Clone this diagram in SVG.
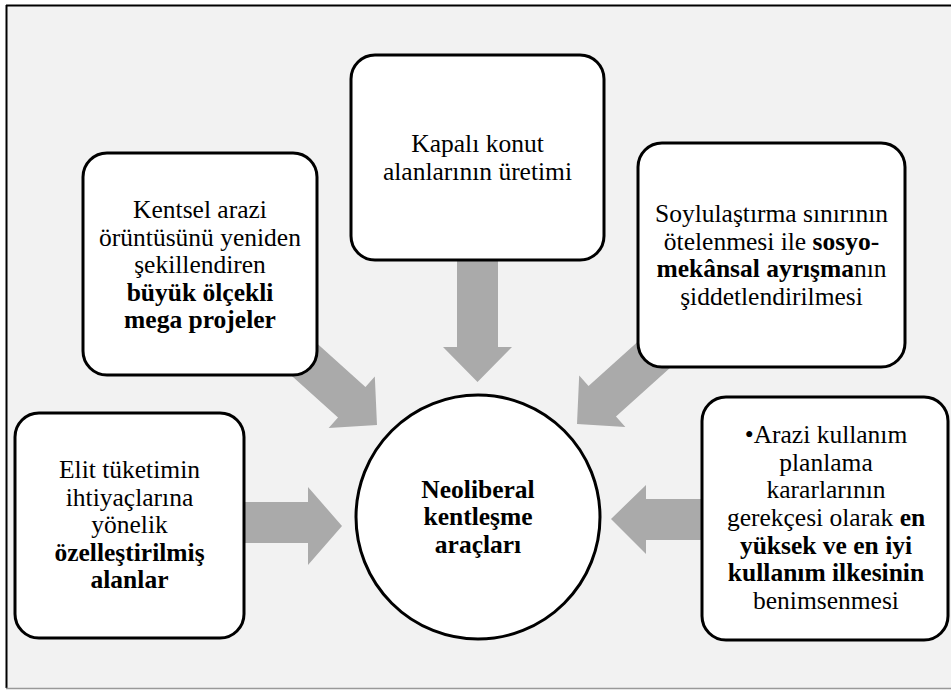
<svg xmlns="http://www.w3.org/2000/svg" width="951" height="690" viewBox="0 0 951 690">
<style>
.box{fill:#ffffff;stroke:#000000;stroke-width:3}
.arr{fill:#aaaaaa;stroke:none}
.t{font-family:'Liberation Serif','Times New Roman','DejaVu Serif',serif;font-size:25.5px;fill:#000000;text-anchor:middle}
.b{font-weight:bold}
</style>
<defs>
<path id="diag" d="M0,0 L-34,-34.5 L-34,-20.5 L-120,-20.5 L-120,20.5 L-34,20.5 L-34,34.5 Z"/>
</defs>
<rect x="0" y="0" width="951" height="690" fill="#ffffff"/>
<g id="frame">
<rect x="6" y="5" width="945" height="683" fill="#f2f2f2"/>
<line x1="6" y1="5.5" x2="951" y2="5.5" stroke="#000000" stroke-width="2"/>
<line x1="6.5" y1="5" x2="6.5" y2="688" stroke="#000000" stroke-width="2"/>
<line x1="6" y1="688.5" x2="951" y2="688.5" stroke="#999999" stroke-width="1.5"/>
</g>
<g id="connectors">
<polygon class="arr" points="245,502 308,502 308,487 342,526 308,565 308,543 245,543"/>
<polygon class="arr" points="710,499 646,499 646,485 611,519 646,554 646,540 710,540"/>
<polygon class="arr" points="457,255 498,255 498,347 512,347 477.5,382 443,347 457,347"/>
<use href="#diag" class="arr" transform="translate(377,425) rotate(42)"/>
<use href="#diag" class="arr" transform="translate(577,424) rotate(138)"/>
</g>
<g class="t">
<g id="node-kentsel">
<rect class="box" x="83" y="153" width="234" height="222" rx="24"/>
<text x="200" y="218">Kentsel arazi</text>
<text x="200" y="245.5">örüntüsünü yeniden</text>
<text x="200" y="273">şekillendiren</text>
<text x="200" y="300.5" class="b">büyük ölçekli</text>
<text x="200" y="328" class="b">mega projeler</text>
</g>
<g id="node-kapali">
<rect class="box" x="351" y="55" width="253" height="205" rx="24"/>
<text x="477.5" y="152">Kapalı konut</text>
<text x="477.5" y="180">alanlarının üretimi</text>
</g>
<g id="node-soylulastirma">
<rect class="box" x="638" y="143" width="267" height="224" rx="24"/>
<text x="771.5" y="222">Soylulaştırma sınırının</text>
<text x="771.5" y="249.5">ötelenmesi ile <tspan class="b">sosyo-</tspan></text>
<text x="771.5" y="277"><tspan class="b">mekânsal ayrışma</tspan>nın</text>
<text x="771.5" y="304.5">şiddetlendirilmesi</text>
</g>
<g id="node-elit">
<rect class="box" x="15" y="413" width="229" height="225" rx="24"/>
<text x="129.5" y="478">Elit tüketimin</text>
<text x="129.5" y="505.5">ihtiyaçlarına</text>
<text x="129.5" y="533">yönelik</text>
<text x="129.5" y="560.5" class="b">özelleştirilmiş</text>
<text x="129.5" y="588" class="b">alanlar</text>
</g>
<g id="node-arazi">
<rect class="box" x="702" y="397" width="246" height="243" rx="24"/>
<text x="826" y="443">•Arazi kullanım</text>
<text x="826" y="470.7">planlama</text>
<text x="826" y="498.3">kararlarının</text>
<text x="826" y="526">gerekçesi olarak <tspan class="b">en</tspan></text>
<text x="826" y="553.7" class="b">yüksek ve en iyi</text>
<text x="826" y="581.3" class="b">kullanım ilkesinin</text>
<text x="826" y="609">benimsenmesi</text>
</g>
<g id="node-center">
<circle class="box" cx="478" cy="517" r="122"/>
<text x="478" y="497.5" class="b">Neoliberal</text>
<text x="478" y="525" class="b">kentleşme</text>
<text x="478" y="552.5" class="b">araçları</text>
</g>
</g>
</svg>
